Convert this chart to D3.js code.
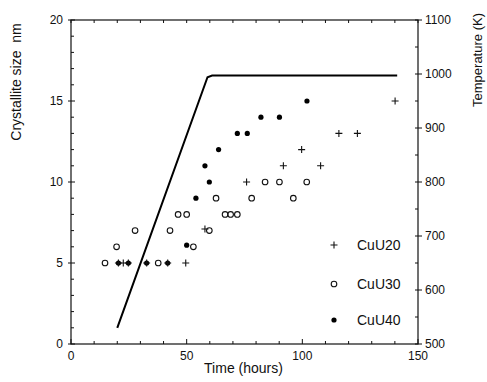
<!DOCTYPE html>
<html>
<head>
<meta charset="utf-8">
<script src="https://cdn.jsdelivr.net/npm/d3@7"></script>
<style>
  body { margin: 0; background: #fff; }
  text { font-family: "Liberation Sans", Arial, sans-serif; fill: #111; }
</style>
</head>
<body>
<svg id="chart" width="487" height="382"></svg>
<script>
// data
const cuU20 = [[20.5,5],[22.6,5],[24.8,5],[32.7,5],[41.8,5],[49.6,5],[57.9,7.1],[75.9,10],[91.8,11],[99.7,12],[107.9,11],[115.8,13],[123.8,13],[140.1,15]];
const cuU30 = [[14.7,5],[19.7,6],[27.7,7],[37.7,5],[42.8,7],[46.3,8],[50,8],[52.9,6],[59.8,7],[62.7,9],[66.6,8],[69,8],[71.9,8],[78.1,9],[83.9,10],[90.1,10],[96.1,9],[101.9,10]];
const cuU40 = [[20.5,5],[24.8,5],[32.7,5],[41.8,5],[50,6.1],[54,9],[57.9,11],[59.8,10],[63.8,12],[71.9,13],[76.2,13],[82.1,14],[90.1,14],[102,15]];
const tempProfile = [[20,530],[59,994],[61,997],[141,997]];

const xTicks = [0, 50, 100, 150];
const yTicks = [0, 5, 10, 15, 20];
const tTicks = [500, 600, 700, 800, 900, 1000, 1100];
const legendNames = ["CuU20", "CuU30", "CuU40"];

const svg = d3.select("#chart");
const L = 71, R = 418, T = 20, B = 344;

const x = d3.scaleLinear().domain([0, 150]).range([L, R]);
const y = d3.scaleLinear().domain([0, 20]).range([B, T]);
const yT = d3.scaleLinear().domain([500, 1100]).range([B, T]);

// frame
svg.append("rect")
    .attr("x", L).attr("y", T).attr("width", R - L).attr("height", B - T)
    .attr("fill", "none").attr("stroke", "#111").attr("stroke-width", 1.2);

const ax = svg.append("g").attr("stroke", "#111").attr("stroke-width", 1);

// minor ticks bottom/top every 10 h
d3.range(0, 151, 10).forEach(v => {
    let major = v % 50 === 0;
    let len = major ? 5 : 3;
    ax.append("line").attr("x1", x(v)).attr("x2", x(v)).attr("y1", B).attr("y2", B - len);
    ax.append("line").attr("x1", x(v)).attr("x2", x(v)).attr("y1", T).attr("y2", T + 3);
});
// left ticks every 1 nm
d3.range(0, 21, 1).forEach(v => {
    let major = v % 5 === 0;
    ax.append("line").attr("x1", major ? L - 3 : L).attr("x2", L + (major ? 4 : 3))
        .attr("y1", y(v)).attr("y2", y(v));
});
// right ticks every 50 K
d3.range(500, 1101, 50).forEach(v => {
    let major = v % 100 === 0;
    ax.append("line").attr("x1", major ? R + 4 : R).attr("x2", R - 3)
        .attr("y1", yT(v)).attr("y2", yT(v));
});

// tick labels
svg.selectAll(".xl").data(xTicks).enter().append("text")
    .attr("x", d => x(d)).attr("y", B + 16)
    .attr("text-anchor", "middle").attr("font-size", 12).text(d => d);
svg.selectAll(".yl").data(yTicks).enter().append("text")
    .attr("x", L - 8).attr("y", d => y(d) + 4)
    .attr("text-anchor", "end").attr("font-size", 12).text(d => d);
svg.selectAll(".tl").data(tTicks).enter().append("text")
    .attr("x", R + 7).attr("y", d => yT(d) + 4)
    .attr("font-size", 12).text(d => d);

// axis titles
svg.append("text").attr("x", (L + R) / 2 - 1).attr("y", 373)
    .attr("text-anchor", "middle").attr("font-size", 14).text("Time (hours)");
svg.append("text").attr("transform", "translate(21,82) rotate(-90)")
    .attr("text-anchor", "middle").attr("font-size", 14)
    .attr("xml:space", "preserve").text("Crystallite size  nm");
svg.append("text").attr("transform", "translate(482,60) rotate(-90)")
    .attr("text-anchor", "middle").attr("font-size", 13).text("Temperature (K)");

// temperature line
svg.append("path").datum(tempProfile)
    .attr("d", d3.line().x(d => x(d[0])).y(d => yT(d[1])))
    .attr("fill", "none").attr("stroke", "#000").attr("stroke-width", 2);

// markers
const cross = (g, cx, cy) => g.append("path")
    .attr("d", `M${cx - 3.5},${cy}H${cx + 3.5}M${cx},${cy - 3.5}V${cy + 3.5}`)
    .attr("stroke", "#111").attr("stroke-width", 1.1);
const ring = (g, cx, cy) => g.append("circle").attr("cx", cx).attr("cy", cy).attr("r", 2.8)
    .attr("fill", "none").attr("stroke", "#111").attr("stroke-width", 1.1);
const dot = (g, cx, cy) => g.append("circle").attr("cx", cx).attr("cy", cy).attr("r", 2.6)
    .attr("fill", "#000");

const pts = svg.append("g");
cuU30.forEach(d => ring(pts, x(d[0]), y(d[1])));
cuU40.forEach(d => dot(pts, x(d[0]), y(d[1])));
cuU20.forEach(d => cross(pts, x(d[0]), y(d[1])));

// legend
const lg = svg.append("g");
const legY = [245, 284, 320];
const markers = [cross, ring, dot];
legendNames.forEach((n, i) => {
    markers[i](lg, 334, legY[i]);
    lg.append("text").attr("x", 357).attr("y", legY[i] + 5).attr("font-size", 14).text(n);
});
</script>
</body>
</html>
